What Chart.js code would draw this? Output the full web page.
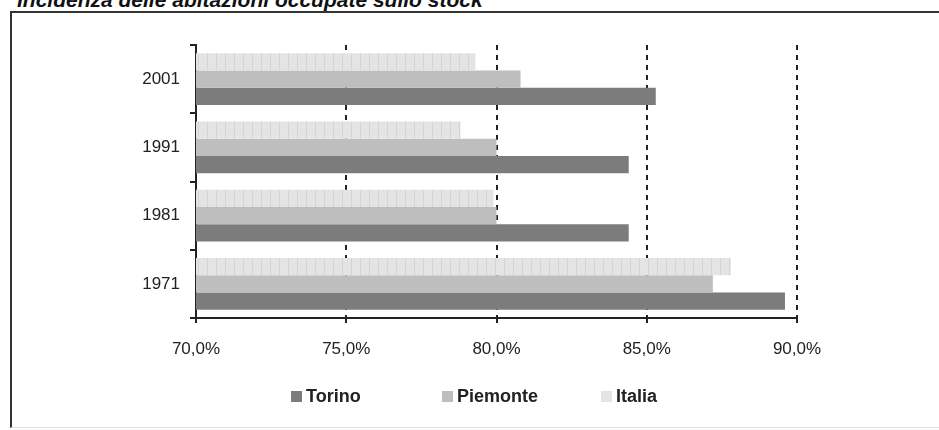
<!DOCTYPE html>
<html>
<head>
<meta charset="utf-8">
<script src="https://cdn.jsdelivr.net/npm/chart.js@4/dist/chart.umd.min.js"></script>
<style>
  html,body{margin:0;padding:0;background:#fff;}
  #wrap{position:relative;width:939px;height:430px;overflow:hidden;background:#fff;}
  #frame{position:absolute;left:10px;top:11px;width:940px;height:414px;border-top:2px solid #333;border-left:2px solid #333;border-bottom:1px solid #e2e2e2;}
  #title{position:absolute;left:17px;top:-11px;font:italic bold 21px "Liberation Sans",Arial,sans-serif;color:#111;white-space:nowrap;line-height:21px;}
  canvas{position:absolute;left:0;top:0;}
  .leg{position:absolute;top:386px;height:20px;font:bold 18px "Liberation Sans",Arial,sans-serif;color:#222;display:flex;align-items:center;white-space:nowrap;}
  .leg span.sw{display:inline-block;width:11px;height:11px;margin-right:4px;}
</style>
</head>
<body>
<div id="wrap">
  <div id="frame"></div>
  <div id="title">Incidenza delle abitazioni occupate sullo stock</div>
  <canvas id="c" width="939" height="430"></canvas>
  <div id="legend"></div>
</div>
<script>
// Data
const categories = ["2001", "1991", "1981", "1971"];
const torino   = [85.3, 84.4, 84.4, 89.6];
const piemonte = [80.8, 80.0, 80.0, 87.2];
const italia   = [79.3, 78.8, 79.9, 87.8];
const xTicks = [70, 75, 80, 85, 90];
const seriesNames = ["Torino", "Piemonte", "Italia"];

// Styles
const colTorino = "#7c7c7c";
const colPiemonte = "#bebebe";
const colItalia = "#e4e4e4";

function makePattern(){
  const p = document.createElement("canvas");
  p.width = 9; p.height = 17;
  const g = p.getContext("2d");
  g.fillStyle = colItalia; g.fillRect(0,0,9,17);
  g.fillStyle = "#d4d4d4"; g.fillRect(0,0,1,17);
  return document.getElementById("c").getContext("2d").createPattern(p, "repeat");
}
const italiaPattern = makePattern();

const ctx = document.getElementById("c");
new Chart(ctx, {
  type: "bar",
  data: {
    labels: categories,
    datasets: [
      {label: "Italia", data: italia, backgroundColor: italiaPattern, borderWidth: 0},
      {label: "Piemonte", data: piemonte, backgroundColor: colPiemonte, borderWidth: 0},
      {label: "Torino", data: torino, backgroundColor: colTorino, borderWidth: 0}
    ]
  },
  options: {
    indexAxis: "y",
    responsive: false,
    animation: false,
    devicePixelRatio: 1,
    layout: {padding: {top: 45, right: 142, left: 0, bottom: 0}},
    datasets: {bar: {categoryPercentage: 0.76, barPercentage: 1.0}},
    plugins: {legend: {display: false}, tooltip: {enabled: false}},
    scales: {
      x: {
        min: 70, max: 90,
        afterBuildTicks: (s) => { s.ticks = xTicks.map(v => ({value: v})); },
        afterFit: (s) => { s.height = 112; },
        ticks: {
          callback: (v) => v.toFixed(1).replace(".", ",") + "%",
          font: {family: "Liberation Sans", size: 17},
          color: "#222",
          padding: 16,
          maxRotation: 0
        },
        grid: {color: "#222", lineWidth: 2, tickLength: 5, tickColor: "#222", tickWidth: 2, tickBorderDash: []},
        border: {display: true, color: "#222", width: 2, dash: [5, 5]}
      },
      y: {
        afterFit: (s) => { s.width = 196; },
        ticks: {
          font: {family: "Liberation Sans", size: 17},
          color: "#222",
          padding: 10
        },
        grid: {drawOnChartArea: false, color: "#222", tickLength: 6, lineWidth: 2, offset: true},
        border: {display: true, color: "#222", width: 2}
      }
    }
  }
});

// legend (HTML text)
const legendPos = [291, 442, 601];
const legendCols = [colTorino, colPiemonte, colItalia];
const lg = document.getElementById("legend");
seriesNames.forEach((n, i) => {
  const d = document.createElement("div");
  d.className = "leg";
  d.style.left = legendPos[i] + "px";
  d.innerHTML = '<span class="sw" style="background:' + legendCols[i] + '"></span>' + n;
  lg.appendChild(d);
});
</script>
</body>
</html>
